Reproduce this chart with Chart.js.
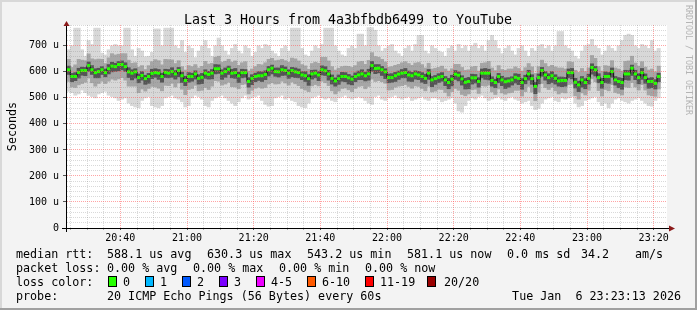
<!DOCTYPE html>
<html>
<head>
<meta charset="utf-8">
<script src="https://cdn.jsdelivr.net/npm/chart.js@4.4.1/dist/chart.umd.min.js"></script>
<style>
  body { margin: 0; background: #f3f3f3; }
  canvas { display: block; }
</style>
</head>
<body>
<canvas id="chart" width="697" height="310"></canvas>
<script>
// one sample per minute, first sample at 20:24 (minutes of the day)
const startMinute = 1224;
const endMinute = 1404;

// median rtt per minute (us)
const median = [
  608,582,582,598,605,605,624,608,597,601,
  608,597,612,622,620,628,628,620,600,595,
  600,578,586,574,582,594,597,595,582,598,
  595,601,592,605,585,567,582,582,592,575,
  579,595,590,595,612,612,595,601,610,595,
  597,585,597,597,563,575,582,585,585,590,
  608,614,601,600,608,605,595,605,600,597,
  588,585,574,592,595,588,608,604,592,575,
  565,574,582,582,577,572,582,588,592,585,
  592,624,613,614,608,600,578,578,585,591,
  595,597,588,585,592,588,582,575,595,569,
  574,579,582,569,559,572,591,587,573,560,
  563,577,577,563,595,595,595,567,559,582,
  569,562,565,569,579,575,559,574,592,574,
  544,578,605,588,578,585,575,565,567,567,
  597,597,560,550,569,559,575,617,608,578,
  559,582,582,601,569,563,559,592,592,614,
  592,578,597,578,563,563,556,582
];

// slowest / fastest ping per minute (us)
const maxPing = [
  685,700,768,768,685,660,720,705,768,768,
  672,665,685,700,705,700,700,768,768,685,
  660,690,680,658,660,675,765,765,700,768,
  768,768,700,690,720,675,700,690,655,680,
  700,720,690,660,700,730,700,680,665,690,
  705,680,670,700,690,660,675,700,690,705,
  700,680,670,660,690,700,680,768,768,768,
  690,665,660,680,700,690,705,768,768,768,
  700,680,665,660,690,700,690,745,745,700,
  770,770,760,700,680,690,700,705,680,670,
  660,690,700,680,705,740,740,680,670,700,
  690,680,675,660,690,700,680,705,690,700,
  680,700,710,690,700,680,720,740,720,690,
  670,690,700,680,665,690,700,680,660,690,
  680,700,705,690,700,680,700,755,755,700,
  690,680,660,650,680,700,705,725,700,690,
  665,680,700,690,680,700,720,740,745,740,
  700,690,705,700,690,720,680,690
];
const minPing = [
  525,520,510,515,530,520,510,505,500,515,
  520,525,510,505,500,490,495,500,480,470,
  465,462,490,500,505,470,465,462,470,500,
  505,510,500,495,485,465,470,500,510,505,
  495,470,465,490,500,505,510,500,490,480,
  470,485,500,510,495,500,505,510,490,475,
  468,470,500,505,510,495,500,490,485,470,
  465,462,480,500,505,510,500,495,500,490,
  485,500,505,510,500,495,500,505,500,490,
  480,475,505,510,495,490,500,505,510,500,
  495,500,505,490,495,500,505,495,490,500,
  500,495,485,490,495,500,480,450,445,470,
  490,500,495,505,510,500,490,495,500,505,
  495,490,500,505,495,490,480,485,490,470,
  455,460,480,495,500,505,490,485,500,495,
  500,505,480,465,470,490,495,500,505,485,
  470,480,462,480,495,500,490,485,480,490,
  495,500,490,480,470,468,490,500
];

// spread of the middle pings above / below the median (us)
const midUp = [
  40,35,45,50,40,38,45,42,50,48,40,35,42,48,45,40,42,50,45,38,
  35,40,38,35,42,45,50,48,45,50,52,45,40,38,35,40,42,38,36,40,
  42,45,40,38,44,48,42,40,38,42,45,40,38,42,40,36,38,44,42,45,
  40,38,42,45,40,38,42,48,50,45,40,38,36,40,42,45,48,52,50,45,
  42,40,38,40,44,45,42,50,48,44,52,50,46,42,40,38,40,42,40,38,
  40,42,44,40,42,48,46,40,38,42,40,38,40,42,44,40,38,42,44,46,
  45,42,44,40,38,40,45,48,46,42,40,44,46,42,40,38,44,42,40,45,
  50,42,40,44,42,40,44,50,48,44,42,40,46,48,44,42,40,46,44,42,
  44,42,40,42,46,48,44,48,50,46,42,44,42,40,44,48,44,40
];
const midDown = [
  45,40,42,48,50,45,48,50,52,46,44,42,48,50,52,55,50,52,55,50,
  55,58,52,48,46,50,55,58,55,50,48,45,50,48,52,55,50,46,44,48,
  50,55,58,50,46,48,46,48,50,52,55,50,46,44,48,46,45,44,48,50,
  55,56,48,46,44,48,46,44,46,50,52,55,50,46,44,42,44,46,45,48,
  50,48,46,44,46,48,46,44,46,50,48,52,50,48,46,44,48,46,44,46,
  48,46,44,48,46,44,46,48,50,46,48,46,50,48,52,48,55,58,60,52,
  48,46,44,46,48,50,46,44,46,48,50,48,46,48,50,46,52,50,48,52,
  55,56,50,48,46,44,48,50,46,48,46,44,52,55,50,48,46,44,46,50,
  52,50,55,50,48,46,48,50,52,55,50,48,46,48,52,55,50,48
];
const coreUp = [
  14,12,15,16,13,12,14,16,15,13,12,14,16,15,13,12,14,15,16,13,
  12,14,15,13,12,16,15,14,13,12,14,15,13,12,14,16,15,13,12,14,
  15,13,12,14,16,15,13,14,12,15,16,14,13,12,15,14,13,16,15,14,
  13,12,14,15,16,14,13,12,15,14,13,16,15,14,12,13,15,16,14,13,
  12,14,16,15,13,12,14,15,16,14,18,16,15,14,13,12,14,15,13,12,
  14,16,15,13,12,14,15,16,14,13,12,14,15,13,16,15,14,13,12,15,
  16,14,13,15,16,18,15,14,13,12,14,15,13,12,14,16,15,13,14,15,
  16,14,12,13,15,16,14,15,13,12,14,16,15,14,13,15,16,14,13,15,
  16,18,15,14,13,15,16,14,13,12,14,15,16,14,13,15,14,13
];
const coreDown = [
  18,20,16,22,18,20,22,18,20,24,18,16,20,22,18,24,20,18,22,26,
  24,20,18,22,26,20,18,24,22,20,18,22,20,24,26,20,22,18,20,22,
  24,20,18,22,20,18,24,22,20,18,22,26,20,18,22,24,20,18,22,20,
  24,22,18,20,22,18,20,24,22,20,18,22,26,20,18,22,20,18,24,22,
  20,22,18,20,24,22,20,18,22,20,24,22,20,18,22,26,20,18,22,20,
  18,20,24,22,20,18,22,20,24,26,22,20,18,22,24,26,20,22,24,26,
  28,24,20,22,18,24,26,22,20,24,22,26,24,20,22,24,26,20,24,22,
  28,24,22,20,24,26,22,20,24,22,20,24,22,26,28,24,22,26,24,20,
  22,24,26,22,20,24,26,22,24,28,22,24,26,22,26,24,22,20
];

const xTickMinutes = [1240, 1260, 1280, 1300, 1320, 1340, 1360, 1380, 1400];
const xTickLabels = ['20:40', '21:00', '21:20', '21:40', '22:00', '22:20', '22:40', '23:00', '23:20'];
const yTickLabels = ['0', '100 u', '200 u', '300 u', '400 u', '500 u', '600 u', '700 u'];

const lossLabels = ['0', '1', '2', '3', '4-5', '6-10', '11-19', '20/20'];
const lossColors = ['#26ff00', '#00b8ff', '#0059ff', '#7a00ff', '#ee00ff', '#ff5a00', '#ff0000', '#990000'];

const mono = "'DejaVu Sans Mono', monospace";

const t = median.map((v, i) => startMinute + i + 0.5);
const band = (lo, hi) => t.map((x, i) => ({ x: x, y: [lo[i], hi[i]] }));
const outer = band(minPing, maxPing);
const mid = band(median.map((m, i) => m - midDown[i]), median.map((m, i) => m + midUp[i]));
const core = band(median.map((m, i) => m - coreDown[i]), median.map((m, i) => m + coreUp[i]));
const medianPts = t.map((x, i) => ({ x: x, y: median[i] }));

const gridMinutes = [];
for (let m = startMinute + 1; m < endMinute; m++) if (m % 5 === 0) gridMinutes.push(m);

const majorGrid = 'rgba(255,90,90,0.55)';
const minorGrid = 'rgba(130,130,130,0.3)';

const rrdText = {
  id: 'rrdText',
  beforeDraw(chart) {
    const { ctx, chartArea: a } = chart;
    ctx.save();
    ctx.fillStyle = '#f3f3f3';
    ctx.fillRect(0, 0, chart.width, chart.height);
    ctx.fillStyle = '#ffffff';
    ctx.fillRect(a.left, a.top, a.right - a.left, a.bottom - a.top);
    ctx.restore();
  },
  afterDraw(chart) {
    const { ctx, chartArea: a } = chart;
    ctx.save();

    // frame
    ctx.fillStyle = '#d8d8d8';
    ctx.fillRect(0, 0, 697, 2);
    ctx.fillRect(0, 0, 2, 310);
    ctx.fillStyle = '#a0a0a0';
    ctx.fillRect(0, 308, 697, 2);
    ctx.fillRect(695, 0, 2, 310);

    // axes with arrows
    ctx.fillStyle = '#000';
    ctx.fillRect(62, a.bottom, a.right - 62 + 2, 1);
    ctx.fillRect(a.left - 1, a.top, 1, a.bottom - a.top + 4);
    ctx.fillStyle = '#8b1a1a';
    ctx.beginPath();
    ctx.moveTo(a.left - 0.5, 21); ctx.lineTo(a.left - 3.5, 26); ctx.lineTo(a.left + 2.5, 26);
    ctx.closePath(); ctx.fill();
    ctx.beginPath();
    ctx.moveTo(675, a.bottom + 0.5); ctx.lineTo(669, a.bottom - 2.5); ctx.lineTo(669, a.bottom + 3.5);
    ctx.closePath(); ctx.fill();

    // title
    ctx.fillStyle = '#000';
    ctx.font = '13.3px ' + mono;
    ctx.textAlign = 'center';
    ctx.textBaseline = 'alphabetic';
    ctx.fillText('Last 3 Hours from 4a3bfbdb6499 to YouTube', 348, 24);

    // vertical axis title
    ctx.font = '11.7px ' + mono;
    ctx.save();
    ctx.translate(15.5, 126.5);
    ctx.rotate(-Math.PI / 2);
    ctx.fillText('Seconds', 0, 0);
    ctx.restore();

    // watermark
    ctx.save();
    ctx.fillStyle = '#b4b4b4';
    ctx.font = '8.3px ' + mono;
    ctx.textAlign = 'left';
    ctx.translate(686, 5);
    ctx.rotate(Math.PI / 2);
    ctx.fillText('RRDTOOL / TOBI OETIKER', 0, 0);
    ctx.restore();

    // legend
    ctx.textAlign = 'left';
    ctx.font = '11.7px ' + mono;
    const rows = [258, 272, 286, 300];
    const put = (s, x, y) => ctx.fillText(s, x, y);
    put('median rtt:', 16, rows[0]);
    put('588.1 us avg', 107, rows[0]);
    put('630.3 us max', 207, rows[0]);
    put('543.2 us min', 307, rows[0]);
    put('581.1 us now', 407, rows[0]);
    put('0.0 ms sd', 507, rows[0]);
    put('34.2', 581, rows[0]);
    put('am/s', 635, rows[0]);

    put('packet loss:', 16, rows[1]);
    put('0.00 % avg', 107, rows[1]);
    put('0.00 % max', 193, rows[1]);
    put('0.00 % min', 279, rows[1]);
    put('0.00 % now', 365, rows[1]);

    put('loss color:', 16, rows[2]);
    const boxX = [108, 145, 182, 219, 256, 307, 365, 427];
    const labX = [123, 160, 197, 234, 271, 322, 380, 444];
    lossLabels.forEach((lab, i) => {
      ctx.fillStyle = '#000';
      ctx.fillRect(boxX[i], rows[2] - 10, 9, 11);
      ctx.fillStyle = lossColors[i];
      ctx.fillRect(boxX[i] + 1, rows[2] - 9, 7, 9);
      ctx.fillStyle = '#000';
      put(lab, labX[i], rows[2]);
    });

    put('probe:', 16, rows[3]);
    put('20 ICMP Echo Pings (56 Bytes) every 60s', 107, rows[3]);
    ctx.textAlign = 'right';
    put('Tue Jan  6 23:23:13 2026', 681, rows[3]);

    ctx.restore();
  }
};

const barBase = { type: 'bar', grouped: false, borderWidth: 0, barPercentage: 1, categoryPercentage: 1 };

new Chart(document.getElementById('chart'), {
  type: 'bar',
  data: {
    datasets: [
      { type: 'line', data: medianPts, showLine: false, pointStyle: 'line', pointRadius: 1.67,
        pointBorderWidth: 3, pointBorderColor: '#26ff00', pointBackgroundColor: '#26ff00', order: 0 },
      { type: 'line', data: medianPts, stepped: 'middle', borderColor: '#111', borderWidth: 1,
        pointRadius: 0, fill: false, order: 1 },
      Object.assign({ data: core, backgroundColor: '#555555', order: 2 }, barBase),
      Object.assign({ data: mid, backgroundColor: '#a6a6a6', order: 3 }, barBase),
      Object.assign({ data: outer, backgroundColor: '#d8d8d8', order: 4 }, barBase)
    ]
  },
  options: {
    responsive: false,
    animation: false,
    events: [],
    layout: { padding: { top: 25, right: 30, left: 0, bottom: 0 } },
    plugins: { legend: { display: false }, tooltip: { enabled: false } },
    scales: {
      x: {
        type: 'linear',
        min: startMinute,
        max: endMinute,
        offset: false,
        afterBuildTicks: s => { s.ticks = gridMinutes.map(v => ({ value: v })); },
        afterFit: s => { s.height = 82; },
        grid: {
          z: 1,
          offset: false,
          color: c => (c.tick && c.tick.value % 20 === 0 ? majorGrid : minorGrid),
          tickColor: c => (c.tick && c.tick.value % 20 === 0 ? '#555' : '#aaa'),
          tickLength: 2
        },
        border: { display: false, dash: [1, 1] },
        ticks: {
          autoSkip: false,
          maxRotation: 0,
          padding: 2,
          color: '#000',
          font: { family: mono, size: 10 },
          callback: v => { const k = xTickMinutes.indexOf(v); return k >= 0 ? xTickLabels[k] : ''; }
        }
      },
      y: {
        min: 0,
        max: 780,
        afterFit: s => { s.width = 67; },
        grid: {
          z: 1,
          color: c => (c.tick.value % 100 === 0 ? majorGrid : minorGrid),
          tickColor: c => (c.tick.value % 100 === 0 ? '#555' : 'rgba(0,0,0,0)'),
          tickLength: 4
        },
        border: { display: false, dash: [1, 1] },
        ticks: {
          stepSize: 20,
          autoSkip: false,
          padding: 4,
          color: '#000',
          font: { family: mono, size: 10 },
          callback: v => (v % 100 === 0 ? yTickLabels[v / 100] : '')
        }
      }
    }
  },
  plugins: [rrdText]
});
</script>
</body>
</html>
